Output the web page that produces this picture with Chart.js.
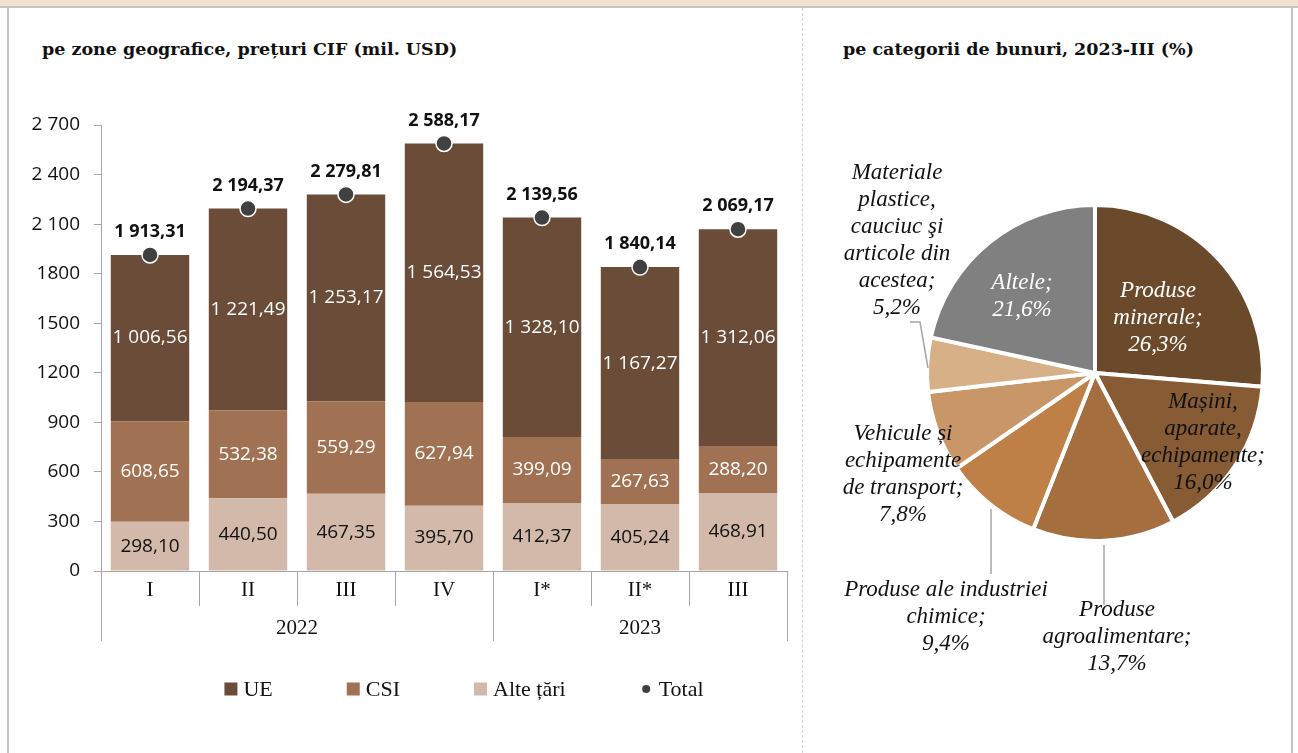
<!DOCTYPE html>
<html>
<head>
<meta charset="utf-8">
<script src="https://cdn.jsdelivr.net/npm/chart.js@4.4.0/dist/chart.umd.min.js"></script>
<style>
  html, body { margin: 0; padding: 0; background: #fff; }
  #page { position: relative; width: 1298px; height: 753px; overflow: hidden; background: #fff; }
  #band { position: absolute; left: 0; top: 0; width: 1298px; height: 6px; background: #f2e1d1; border-bottom: 2px solid #c3c3c3; }
  #lineL { position: absolute; left: 7px; top: 8px; width: 2px; height: 745px; background: #c3c3c3; }
  #lineR { position: absolute; left: 1291px; top: 8px; width: 2px; height: 745px; background: #c3c3c3; }
  #divider { position: absolute; left: 802px; top: 8px; height: 745px; border-left: 1px dashed #d4d4d4; }
  .title { position: absolute; top: 39px; font-family: "DejaVu Serif", serif; font-weight: bold; font-size: 17.5px; color: #111; white-space: nowrap; }
  #barWrap { position: absolute; left: 0; top: 0; }
  #pieWrap { position: absolute; left: 805px; top: 0; }
</style>
</head>
<body>
<div id="page">
  <div id="band"></div>
  <div id="lineL"></div>
  <div id="lineR"></div>
  <div id="divider"></div>
  <div class="title" style="left:42px">pe zone geografice, prețuri CIF (mil. USD)</div>
  <div class="title" style="left:843px">pe categorii de bunuri, 2023-III (%)</div>
  <div id="barWrap"><canvas id="bar" width="800" height="753"></canvas></div>
  <div id="pieWrap"><canvas id="pie" width="487" height="753"></canvas></div>
</div>
<script>
// ---- date: importuri pe zone geografice ----
var quarters = ['I', 'II', 'III', 'IV', 'I*', 'II*', 'III'];
var yearLabels = ['2022', '2023'];
var yearSpans = [4, 3];
var ue = [1006.56, 1221.49, 1253.17, 1564.53, 1328.10, 1167.27, 1312.06];
var csi = [608.65, 532.38, 559.29, 627.94, 399.09, 267.63, 288.20];
var alteTari = [298.10, 440.50, 467.35, 395.70, 412.37, 405.24, 468.91];
var total = [1913.31, 2194.37, 2279.81, 2588.17, 2139.56, 1840.14, 2069.17];
var yTickLabels = ['0', '300', '600', '900', '1200', '1500', '1800', '2 100', '2 400', '2 700'];

// ---- date: pe categorii de bunuri ----
var pieLabels = [
    ['Produse', 'minerale;', '26,3%'],
    ['Mașini,', 'aparate,', 'echipamente;', '16,0%'],
    ['Produse', 'agroalimentare;', '13,7%'],
    ['Produse ale industriei', 'chimice;', '9,4%'],
    ['Vehicule și', 'echipamente', 'de transport;', '7,8%'],
    ['Materiale', 'plastice,', 'cauciuc şi', 'articole din', 'acestea;', '5,2%'],
    ['Altele;', '21,6%']
];
var pieValues = [26.3, 16.0, 13.7, 9.4, 7.8, 5.2, 21.6];

var colUE = '#6a4c38';
var colCSI = '#a07253';
var colAlte = '#d2b9aa';
var colTotal = '#404040';
var pieColors = ['#6b4a2b', '#875b34', '#a46e3e', '#bf8048', '#c99667', '#d8b088', '#808080'];
// pozitia etichetelor fata de centrul cercului (px)
var pieLabelOffsets = [[63, -55], [108, 69], [22, 264], [-149, 244], [-192, 101], [-198, -133], [-73, -77]];
var pieLabelColors = ['#fff', '#111', '#111', '#111', '#111', '#111', '#fff'];
var pieLeaders = [null, null, [[9, 172], [9, 232]], [[-104, 136], [-104, 201]], null, [[-185, -51], [-175, -51], [-167, -5]], null];

var sansFont = '"Open Sans", sans-serif';
var serifFont = '"Liberation Serif", serif';

function fmt(v) {
    var s = v.toFixed(2).split('.');
    var intPart = s[0].replace(/\B(?=(\d{3})+(?!\d))/g, ' ');
    return intPart + ',' + s[1];
}

// etichete valori pe bare + total
var barLabelsPlugin = {
    id: 'barLabels',
    afterDatasetsDraw: function (chart) {
        var ctx = chart.ctx;
        ctx.save();
        ctx.textAlign = 'center';
        ctx.textBaseline = 'middle';
        chart.data.datasets.forEach(function (ds, di) {
            var meta = chart.getDatasetMeta(di);
            meta.data.forEach(function (el, i) {
                if (ds.type === 'line') {
                    ctx.font = 'bold 18px ' + sansFont;
                    ctx.fillStyle = '#111';
                    ctx.fillText(fmt(ds.data[i]), el.x, el.y - 23);
                } else {
                    ctx.font = '19px ' + sansFont;
                    ctx.fillStyle = ds.labelColor;
                    ctx.fillText(fmt(ds.data[i]), el.x, (el.y + el.base) / 2);
                }
            });
        });
        ctx.restore();
    }
};

// axa X grupata (trimestre / ani) si legenda
var axisGroupsPlugin = {
    id: 'axisGroups',
    afterDraw: function (chart) {
        var ctx = chart.ctx;
        var xs = chart.scales.x;
        var area = chart.chartArea;
        var n = quarters.length;
        var half = (xs.getPixelForValue(1) - xs.getPixelForValue(0)) / 2;
        var bounds = [];
        for (var i = 0; i <= n; i++) {
            bounds.push(i < n ? xs.getPixelForValue(i) - half : xs.getPixelForValue(n - 1) + half);
        }
        var yearBounds = [0];
        yearSpans.forEach(function (s) { yearBounds.push(yearBounds[yearBounds.length - 1] + s); });

        ctx.save();
        ctx.strokeStyle = '#a6a6a6';
        ctx.lineWidth = 1;
        bounds.forEach(function (bx, i) {
            var isYear = yearBounds.indexOf(i) >= 0;
            var x = Math.round(bx) + 0.5;
            ctx.beginPath();
            ctx.moveTo(x, area.bottom);
            ctx.lineTo(x, area.bottom + (isYear ? 70 : 35));
            ctx.stroke();
        });
        ctx.fillStyle = '#111';
        ctx.font = '21px ' + serifFont;
        ctx.textAlign = 'center';
        ctx.textBaseline = 'middle';
        yearLabels.forEach(function (lbl, k) {
            var x0 = bounds[yearBounds[k]], x1 = bounds[yearBounds[k + 1]];
            ctx.fillText(lbl, (x0 + x1) / 2, area.bottom + 57);
        });

        // legenda
        var items = [
            { text: 'UE', color: colUE, shape: 'rect' },
            { text: 'CSI', color: colCSI, shape: 'rect' },
            { text: 'Alte țări', color: colAlte, shape: 'rect' },
            { text: 'Total', color: colTotal, shape: 'circle' }
        ];
        ctx.font = '22px ' + serifFont;
        var box = 13, gapText = 6, gapItem = 74;
        var totalW = 0;
        items.forEach(function (it, k) {
            it.w = box + gapText + ctx.measureText(it.text).width;
            totalW += it.w + (k ? gapItem : 0);
        });
        var x = (area.left + area.right) / 2 + 20 - totalW / 2;
        var y = area.bottom + 118;
        ctx.textAlign = 'left';
        items.forEach(function (it) {
            ctx.fillStyle = it.color;
            if (it.shape === 'rect') {
                ctx.fillRect(x, y - box / 2, box, box);
            } else {
                ctx.beginPath();
                ctx.arc(x + box / 2, y, 4, 0, Math.PI * 2);
                ctx.fill();
            }
            ctx.fillStyle = '#111';
            ctx.fillText(it.text, x + box + gapText, y + 1);
            x += it.w + gapItem;
        });
        ctx.restore();
    }
};

new Chart(document.getElementById('bar').getContext('2d'), {
    data: {
        labels: quarters,
        datasets: [
            { type: 'bar', label: 'Alte țări', data: alteTari, backgroundColor: colAlte, labelColor: '#111', stack: 'z', order: 1 },
            { type: 'bar', label: 'CSI', data: csi, backgroundColor: colCSI, labelColor: '#fff', stack: 'z', order: 1 },
            { type: 'bar', label: 'UE', data: ue, backgroundColor: colUE, labelColor: '#fff', stack: 'z', order: 1 },
            {
                type: 'line', label: 'Total', data: total, stack: 'total', order: 0,
                showLine: false, pointRadius: 8, pointHoverRadius: 8,
                pointBackgroundColor: colTotal, pointBorderColor: '#fff', pointBorderWidth: 1.5
            }
        ]
    },
    options: {
        responsive: false,
        devicePixelRatio: 1,
        animation: false,
        layout: { padding: { left: 0, right: 13, top: 125, bottom: 112 } },
        datasets: { bar: { barPercentage: 0.8, categoryPercentage: 1.0 } },
        plugins: { legend: { display: false }, tooltip: { enabled: false } },
        scales: {
            x: {
                stacked: true,
                offset: true,
                grid: { display: false, drawTicks: false },
                border: { display: true, color: '#a6a6a6', width: 1 },
                ticks: { color: '#111', font: { family: serifFont, size: 21 }, padding: 7, maxRotation: 0, autoSkip: false },
                afterFit: function (s) { s.height = 70; }
            },
            y: {
                stacked: true,
                min: 0,
                max: 2700,
                grid: { drawOnChartArea: false, tickLength: 7, color: '#a6a6a6' },
                border: { display: true, color: '#a6a6a6', width: 1 },
                ticks: {
                    stepSize: 300,
                    padding: 14,
                    color: '#111',
                    font: { family: sansFont, size: 19 },
                    callback: function (v, i) { return yTickLabels[i]; }
                },
                afterFit: function (s) { s.width = 101; }
            }
        }
    },
    plugins: [barLabelsPlugin, axisGroupsPlugin]
});

// etichete pentru diagrama circulara
var pieLabelsPlugin = {
    id: 'pieLabels',
    afterDraw: function (chart) {
        var ctx = chart.ctx;
        var arc = chart.getDatasetMeta(0).data[0];
        var cx = arc.x, cy = arc.y;
        var lineH = 27;
        ctx.save();
        ctx.strokeStyle = '#a6a6a6';
        ctx.lineWidth = 1.5;
        pieLeaders.forEach(function (pts) {
            if (!pts) return;
            ctx.beginPath();
            pts.forEach(function (p, k) {
                if (k === 0) ctx.moveTo(cx + p[0], cy + p[1]);
                else ctx.lineTo(cx + p[0], cy + p[1]);
            });
            ctx.stroke();
        });
        ctx.font = 'italic 23px ' + serifFont;
        ctx.textAlign = 'center';
        ctx.textBaseline = 'middle';
        pieLabels.forEach(function (lines, i) {
            var x = cx + pieLabelOffsets[i][0];
            var y0 = cy + pieLabelOffsets[i][1] - (lines.length - 1) * lineH / 2;
            ctx.fillStyle = pieLabelColors[i];
            lines.forEach(function (t, k) {
                ctx.fillText(t, x, y0 + k * lineH);
            });
        });
        ctx.restore();
    }
};

new Chart(document.getElementById('pie').getContext('2d'), {
    type: 'pie',
    data: {
        labels: pieLabels.map(function (l) { return l.join(' '); }),
        datasets: [{
            data: pieValues,
            backgroundColor: pieColors,
            borderColor: '#fff',
            borderWidth: 4
        }]
    },
    options: {
        responsive: false,
        devicePixelRatio: 1,
        animation: false,
        layout: { padding: { left: 120, right: 27, top: 203, bottom: 210 } },
        plugins: { legend: { display: false }, tooltip: { enabled: false } }
    },
    plugins: [pieLabelsPlugin]
});
</script>
</body>
</html>
